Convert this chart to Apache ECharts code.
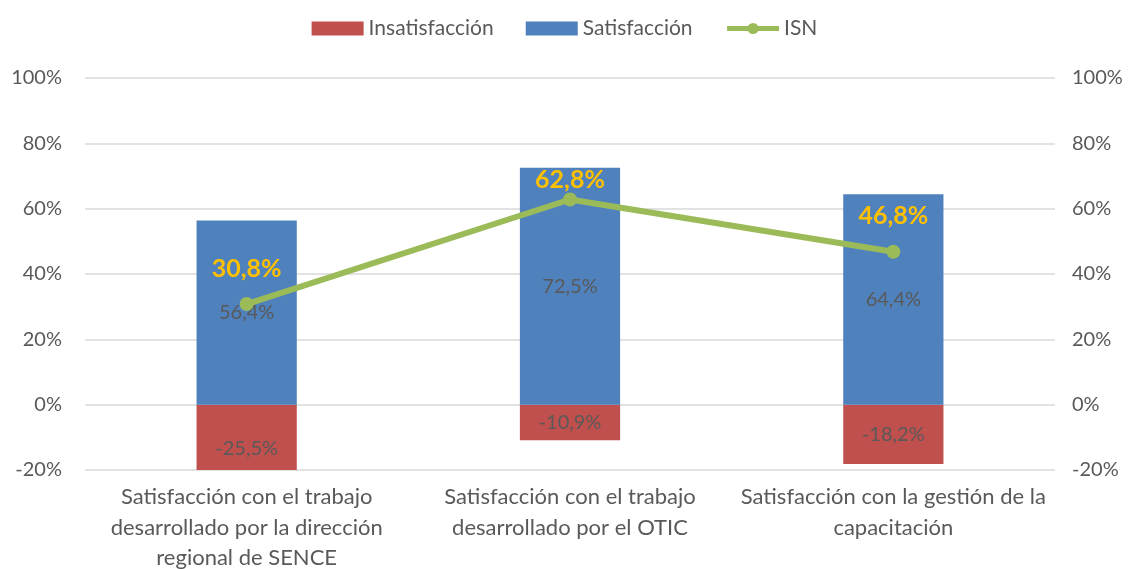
<!DOCTYPE html>
<html>
<head>
<meta charset="utf-8">
<script src="https://cdn.jsdelivr.net/npm/echarts@6/dist/echarts.min.js"></script>
<style>
  html, body { margin: 0; padding: 0; background: #fff; }
  #chart { width: 1129px; height: 569px; }
</style>
</head>
<body>
<div id="chart"></div>
<script>
// datos del gráfico
const categories = [
  'Satisfacción con el trabajo\ndesarrollado por la dirección\nregional de SENCE',
  'Satisfacción con el trabajo\ndesarrollado por el OTIC',
  'Satisfacción con la gestión de la\ncapacitación'
]
const insatisfaccion = [-25.5, -10.9, -18.2]
const satisfaccion = [56.4, 72.5, 64.4]
const isn = [30.8, 62.8, 46.8]
const yTicks = [-20, 0, 20, 40, 60, 80, 100]

const fontFamily = 'Lato, "Open Sans", sans-serif'
const textColor = '#595959'
const fmt = v => v.toFixed(1).replace('.', ',') + '%'

const chart = echarts.init(document.getElementById('chart'))

const yAxisBase = {
  type: 'value',
  min: yTicks[0],
  max: yTicks[yTicks.length - 1],
  interval: 20,
  axisLine: { show: false },
  axisTick: { show: false },
  axisLabel: { color: textColor, fontSize: 20, fontFamily, formatter: '{value}%' },
}

chart.setOption({
  animation: false,
  textStyle: { fontFamily },
  legend: {
    top: 13,
    left: 'center',
    itemGap: 32,
    itemWidth: 52,
    itemHeight: 14,
    textStyle: { color: textColor, fontSize: 21, fontFamily },
    data: [
      { name: 'Insatisfacción', icon: 'rect' },
      { name: 'Satisfacción', icon: 'rect' },
      { name: 'ISN', lineStyle: { width: 5 } },
    ],
  },
  grid: { left: 85, right: 74, top: 78, bottom: 99, outerBoundsMode: 'none' },
  xAxis: {
    type: 'category',
    data: categories,
    axisLine: { show: false },
    axisTick: { show: false },
    axisLabel: {
      color: textColor, fontSize: 22, fontFamily, lineHeight: 30.5, margin: 12, interval: 0,
    },
  },
  yAxis: [
    { ...yAxisBase, splitLine: { lineStyle: { color: '#D9D9D9', width: 1.5 } }, axisLabel: { ...yAxisBase.axisLabel, margin: 23 } },
    { ...yAxisBase, splitLine: { show: false }, axisLabel: { ...yAxisBase.axisLabel, margin: 17 } },
  ],
  series: [
    {
      name: 'Insatisfacción',
      type: 'bar',
      stack: 'total',
      barWidth: '31%',
      itemStyle: { color: '#C0504D' },
      data: insatisfaccion.map((v, i) => i === 0
        ? { value: v, label: { position: 'insideTop', distance: 34 } }
        : v),
      label: {
        show: true, position: 'inside', color: textColor, fontSize: 20, fontFamily,
        formatter: p => fmt(p.value),
      },
    },
    {
      name: 'Satisfacción',
      type: 'bar',
      stack: 'total',
      barWidth: '31%',
      itemStyle: { color: '#4F81BD' },
      data: satisfaccion,
      label: {
        show: true, position: 'inside', color: textColor, fontSize: 20, fontFamily,
        formatter: p => fmt(p.value),
      },
    },
    {
      name: 'ISN',
      type: 'line',
      yAxisIndex: 1,
      symbol: 'circle',
      symbolSize: 14,
      lineStyle: { color: '#9BBB59', width: 6 },
      itemStyle: { color: '#9BBB59' },
      data: isn.map((v, i) => ({ value: v, label: { distance: i === 1 ? 0 : 16 } })),
      label: {
        show: true, position: 'top', color: '#FFC000', fontSize: 25, fontWeight: 'bold', fontFamily,
        formatter: p => fmt(p.value),
      },
      z: 5,
    },
  ],
})
</script>
</body>
</html>
